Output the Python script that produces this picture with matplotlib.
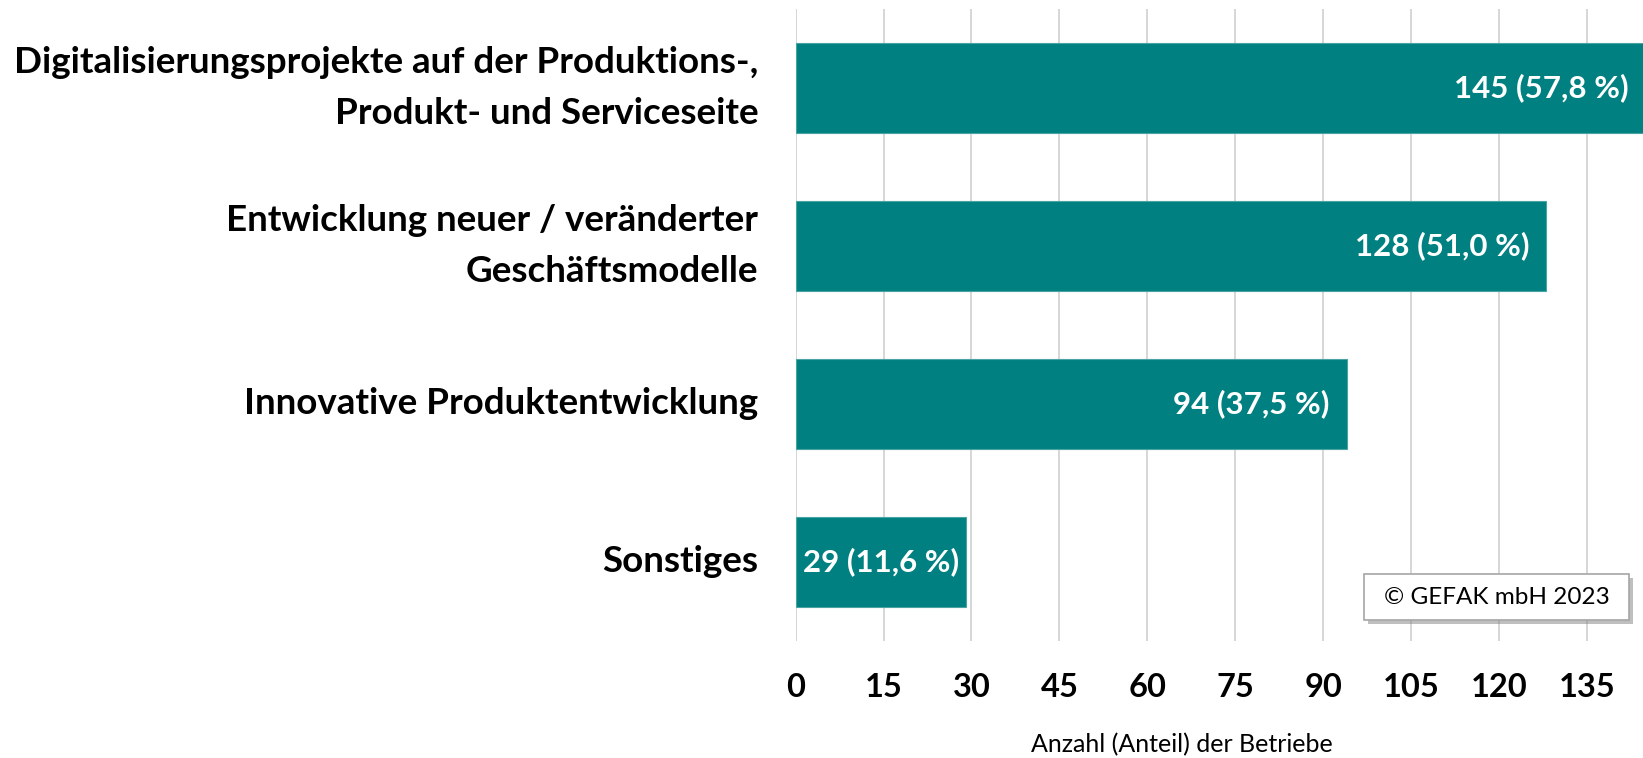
import matplotlib.pyplot as plt
from matplotlib.patches import Rectangle
import matplotlib.patheffects as pe

# Daten
kategorien = [
    "Digitalisierungsprojekte auf der Produktions-,\nProdukt- und Serviceseite",
    "Entwicklung neuer / veränderter\nGeschäftsmodelle",
    "Innovative Produktentwicklung",
    "Sonstiges",
]
anzahl = [145, 128, 94, 29]
anteil = ["57,8", "51,0", "37,5", "11,6"]
ticks = [0, 15, 30, 45, 60, 75, 90, 105, 120, 135]

plt.rcParams["font.family"] = ["Lato", "DejaVu Sans"]

fig = plt.figure(figsize=(16.43, 7.58), dpi=100)
ax = fig.add_axes([0.4843, 0.1544, 0.5157, 0.8338])

pos = list(range(len(kategorien)))
ax.barh(pos, anzahl, height=0.57, color="#008080", edgecolor="#4aa3a3", linewidth=0.8, zorder=3)

xmax = 144.6
ax.set_xlim(0, xmax)
ax.set_ylim(len(kategorien) - 0.5, -0.5)
ax.set_xticks(ticks)
ax.set_xticklabels([str(t) for t in ticks], fontsize=23.5, fontweight="bold")
ax.set_yticks(pos)
ax.set_yticklabels(kategorien, fontsize=26.5, fontweight="bold")
for lab in ax.get_yticklabels():
    lab.set_va("center")
    lab.set_linespacing(1.65)
ax.tick_params(axis="x", length=0, pad=23)
ax.tick_params(axis="y", length=0, pad=27)
ax.grid(axis="x", color="#d0d0d0", linewidth=1.2, zorder=0)
for s in ax.spines.values():
    s.set_visible(False)

# Beschriftungen in den Balken (innen am Ende, zentriert wenn zu eng)
labels = []
for i, (n, p) in enumerate(zip(anzahl, anteil)):
    t = ax.annotate(f"{n} ({p} %)", xy=(n, i), xytext=(-12, 0), textcoords="offset points",
                    ha="right", va="center", color="white", fontsize=22.5, fontweight="bold",
                    zorder=4, annotation_clip=False)
    labels.append((t, n, i))

fig.canvas.draw()
x0_disp = ax.transData.transform((0, 0))[0]
for t, n, i in labels:
    bb = t.get_window_extent()
    if bb.x0 < x0_disp + 4:
        t.xy = (n / 2, i)
        t.set_position((0, 0))
        t.set_ha("center")

fig.text(0.7194, 0.0172, "Anzahl (Anteil) der Betriebe", ha="center", va="center", fontsize=18)

# Copyright-Box
box = Rectangle((1364 / 1643, 1 - 620 / 758), 265 / 1643, 46 / 758, transform=fig.transFigure,
                facecolor="white", edgecolor="#a6a6a6", linewidth=1.2, zorder=5)
box.set_path_effects([pe.SimplePatchShadow(offset=(3, -3), shadow_rgbFace="#808080", alpha=0.5), pe.Normal()])
fig.patches.append(box)
fig.text(1496.5 / 1643, 1 - 597 / 758, "© GEFAK mbH 2023", ha="center", va="center", fontsize=17.5, zorder=6)

fig.savefig("out.png", dpi=100)
